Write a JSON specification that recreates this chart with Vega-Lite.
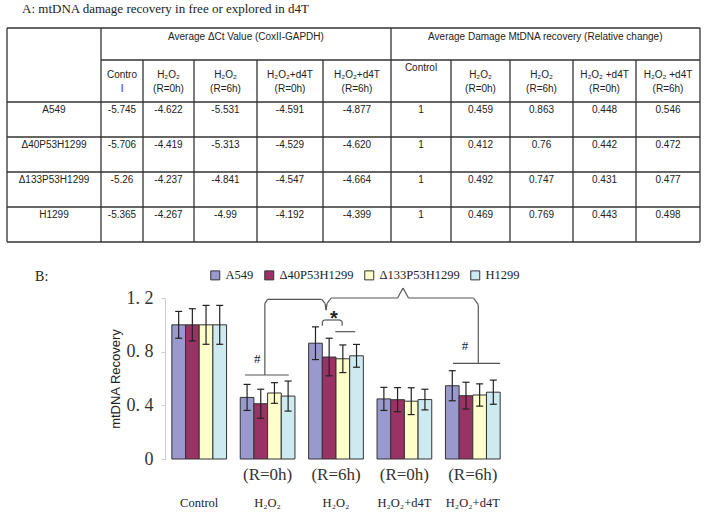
{
  "$schema": "https://vega.github.io/schema/vega-lite/v6.json",
  "width": 342,
  "height": 161,
  "autosize": {"type": "none"},
  "padding": {"left": 165, "top": 298, "right": 200, "bottom": 61},
  "background": "white",
  "config": {"view": {"stroke": null}},
  "datasets": {
    "bars": [
      {"bar": "Control | A549", "group": "Control", "line": "A549", "value": 1, "lo": 0.9, "hi": 1.1},
      {"bar": "Control | Δ40P53H1299", "group": "Control", "line": "Δ40P53H1299", "value": 1, "lo": 0.88, "hi": 1.12},
      {"bar": "Control | Δ133P53H1299", "group": "Control", "line": "Δ133P53H1299", "value": 1, "lo": 0.855, "hi": 1.145},
      {"bar": "Control | H1299", "group": "Control", "line": "H1299", "value": 1, "lo": 0.855, "hi": 1.145},
      {"bar": "H₂O₂ (R=0h) | A549", "group": "H₂O₂ (R=0h)", "line": "A549", "value": 0.459, "lo": 0.362, "hi": 0.556},
      {"bar": "H₂O₂ (R=0h) | Δ40P53H1299", "group": "H₂O₂ (R=0h)", "line": "Δ40P53H1299", "value": 0.412, "lo": 0.304, "hi": 0.52},
      {"bar": "H₂O₂ (R=0h) | Δ133P53H1299", "group": "H₂O₂ (R=0h)", "line": "Δ133P53H1299", "value": 0.492, "lo": 0.415, "hi": 0.569},
      {"bar": "H₂O₂ (R=0h) | H1299", "group": "H₂O₂ (R=0h)", "line": "H1299", "value": 0.469, "lo": 0.357, "hi": 0.581},
      {"bar": "H₂O₂ (R=6h) | A549", "group": "H₂O₂ (R=6h)", "line": "A549", "value": 0.863, "lo": 0.741, "hi": 0.985},
      {"bar": "H₂O₂ (R=6h) | Δ40P53H1299", "group": "H₂O₂ (R=6h)", "line": "Δ40P53H1299", "value": 0.76, "lo": 0.62, "hi": 0.9},
      {"bar": "H₂O₂ (R=6h) | Δ133P53H1299", "group": "H₂O₂ (R=6h)", "line": "Δ133P53H1299", "value": 0.747, "lo": 0.644, "hi": 0.85},
      {"bar": "H₂O₂ (R=6h) | H1299", "group": "H₂O₂ (R=6h)", "line": "H1299", "value": 0.769, "lo": 0.684, "hi": 0.854},
      {"bar": "H₂O₂+d4T (R=0h) | A549", "group": "H₂O₂+d4T (R=0h)", "line": "A549", "value": 0.448, "lo": 0.362, "hi": 0.534},
      {"bar": "H₂O₂+d4T (R=0h) | Δ40P53H1299", "group": "H₂O₂+d4T (R=0h)", "line": "Δ40P53H1299", "value": 0.442, "lo": 0.352, "hi": 0.532},
      {"bar": "H₂O₂+d4T (R=0h) | Δ133P53H1299", "group": "H₂O₂+d4T (R=0h)", "line": "Δ133P53H1299", "value": 0.431, "lo": 0.331, "hi": 0.531},
      {"bar": "H₂O₂+d4T (R=0h) | H1299", "group": "H₂O₂+d4T (R=0h)", "line": "H1299", "value": 0.443, "lo": 0.366, "hi": 0.52},
      {"bar": "H₂O₂+d4T (R=6h) | A549", "group": "H₂O₂+d4T (R=6h)", "line": "A549", "value": 0.546, "lo": 0.434, "hi": 0.658},
      {"bar": "H₂O₂+d4T (R=6h) | Δ40P53H1299", "group": "H₂O₂+d4T (R=6h)", "line": "Δ40P53H1299", "value": 0.472, "lo": 0.372, "hi": 0.572},
      {"bar": "H₂O₂+d4T (R=6h) | Δ133P53H1299", "group": "H₂O₂+d4T (R=6h)", "line": "Δ133P53H1299", "value": 0.477, "lo": 0.394, "hi": 0.56},
      {"bar": "H₂O₂+d4T (R=6h) | H1299", "group": "H₂O₂+d4T (R=6h)", "line": "H1299", "value": 0.498, "lo": 0.408, "hi": 0.588}
    ],
    "xlabels": [
      {"c": 0.5, "l1": "", "l2": "Control"},
      {"c": 1.5, "l1": "(R=0h)", "l2": "H₂O₂"},
      {"c": 2.5, "l1": "(R=6h)", "l2": "H₂O₂"},
      {"c": 3.5, "l1": "(R=0h)", "l2": "H₂O₂+d4T"},
      {"c": 4.5, "l1": "(R=6h)", "l2": "H₂O₂+d4T"}
    ],
    "grid": [
      {"x": 0, "x2": 11, "y": 0, "y2": 0},
      {"x": 1, "x2": 11, "y": 1, "y2": 1},
      {"x": 0, "x2": 11, "y": 2, "y2": 2},
      {"x": 0, "x2": 11, "y": 3, "y2": 3},
      {"x": 0, "x2": 11, "y": 4, "y2": 4},
      {"x": 0, "x2": 11, "y": 5, "y2": 5},
      {"x": 0, "x2": 11, "y": 6, "y2": 6},
      {"x": 0, "x2": 0, "y": 0, "y2": 6},
      {"x": 1, "x2": 1, "y": 0, "y2": 6},
      {"x": 6, "x2": 6, "y": 0, "y2": 6},
      {"x": 11, "x2": 11, "y": 0, "y2": 6},
      {"x": 2, "x2": 2, "y": 1, "y2": 6},
      {"x": 3, "x2": 3, "y": 1, "y2": 6},
      {"x": 4, "x2": 4, "y": 1, "y2": 6},
      {"x": 5, "x2": 5, "y": 1, "y2": 6},
      {"x": 7, "x2": 7, "y": 1, "y2": 6},
      {"x": 8, "x2": 8, "y": 1, "y2": 6},
      {"x": 9, "x2": 9, "y": 1, "y2": 6},
      {"x": 10, "x2": 10, "y": 1, "y2": 6}
    ],
    "cells": [
      {"c": 3.825, "r": 0.28, "t": "Average  ΔCt Value (CoxII-GAPDH)"},
      {"c": 8.56, "r": 0.28, "t": "Average Damage MtDNA recovery (Relative change)"},
      {"c": 1.5, "r": 1.357, "t": ["Contro", "l"]},
      {"c": 2.5, "r": 1.357, "t": ["H₂O₂", "(R=0h)"]},
      {"c": 3.5, "r": 1.357, "t": ["H₂O₂", "(R=6h)"]},
      {"c": 4.5, "r": 1.357, "t": ["H₂O₂+d4T", "(R=0h)"]},
      {"c": 5.5, "r": 1.357, "t": ["H₂O₂+d4T", "(R=6h)"]},
      {"c": 6.5, "r": 1.19, "t": "Control"},
      {"c": 7.5, "r": 1.357, "t": ["H₂O₂", "(R=0h)"]},
      {"c": 8.5, "r": 1.357, "t": ["H₂O₂", "(R=6h)"]},
      {"c": 9.5, "r": 1.357, "t": ["H₂O₂ +d4T", "(R=0h)"]},
      {"c": 10.5, "r": 1.357, "t": ["H₂O₂ +d4T", "(R=6h)"]},
      {"c": 0.5, "r": 2.23, "t": "A549"},
      {"c": 1.5, "r": 2.23, "t": "-5.745"},
      {"c": 2.5, "r": 2.23, "t": "-4.622"},
      {"c": 3.5, "r": 2.23, "t": "-5.531"},
      {"c": 4.5, "r": 2.23, "t": "-4.591"},
      {"c": 5.5, "r": 2.23, "t": "-4.877"},
      {"c": 6.5, "r": 2.23, "t": "1"},
      {"c": 7.5, "r": 2.23, "t": "0.459"},
      {"c": 8.5, "r": 2.23, "t": "0.863"},
      {"c": 9.5, "r": 2.23, "t": "0.448"},
      {"c": 10.5, "r": 2.23, "t": "0.546"},
      {"c": 0.5, "r": 3.23, "t": "Δ40P53H1299"},
      {"c": 1.5, "r": 3.23, "t": "-5.706"},
      {"c": 2.5, "r": 3.23, "t": "-4.419"},
      {"c": 3.5, "r": 3.23, "t": "-5.313"},
      {"c": 4.5, "r": 3.23, "t": "-4.529"},
      {"c": 5.5, "r": 3.23, "t": "-4.620"},
      {"c": 6.5, "r": 3.23, "t": "1"},
      {"c": 7.5, "r": 3.23, "t": "0.412"},
      {"c": 8.5, "r": 3.23, "t": "0.76"},
      {"c": 9.5, "r": 3.23, "t": "0.442"},
      {"c": 10.5, "r": 3.23, "t": "0.472"},
      {"c": 0.5, "r": 4.23, "t": "Δ133P53H1299"},
      {"c": 1.5, "r": 4.23, "t": "-5.26"},
      {"c": 2.5, "r": 4.23, "t": "-4.237"},
      {"c": 3.5, "r": 4.23, "t": "-4.841"},
      {"c": 4.5, "r": 4.23, "t": "-4.547"},
      {"c": 5.5, "r": 4.23, "t": "-4.664"},
      {"c": 6.5, "r": 4.23, "t": "1"},
      {"c": 7.5, "r": 4.23, "t": "0.492"},
      {"c": 8.5, "r": 4.23, "t": "0.747"},
      {"c": 9.5, "r": 4.23, "t": "0.431"},
      {"c": 10.5, "r": 4.23, "t": "0.477"},
      {"c": 0.5, "r": 5.23, "t": "H1299"},
      {"c": 1.5, "r": 5.23, "t": "-5.365"},
      {"c": 2.5, "r": 5.23, "t": "-4.267"},
      {"c": 3.5, "r": 5.23, "t": "-4.99"},
      {"c": 4.5, "r": 5.23, "t": "-4.192"},
      {"c": 5.5, "r": 5.23, "t": "-4.399"},
      {"c": 6.5, "r": 5.23, "t": "1"},
      {"c": 7.5, "r": 5.23, "t": "0.469"},
      {"c": 8.5, "r": 5.23, "t": "0.769"},
      {"c": 9.5, "r": 5.23, "t": "0.443"},
      {"c": 10.5, "r": 5.23, "t": "0.498"}
    ],
    "titles": [
      {"c": 0.16, "r": -1, "t": "A: mtDNA damage recovery in free or explored in d4T"}
    ],
    "segments": [
      {"x": 1.46, "x2": 1.46, "y": 0.626, "y2": 1.16},
      {"x": 1.46, "x2": 1.5, "y": 1.16, "y2": 1.19},
      {"x": 1.5, "x2": 2.29, "y": 1.19, "y2": 1.19},
      {"x": 2.29, "x2": 2.34, "y": 1.19, "y2": 1.16},
      {"x": 2.34, "x2": 2.355, "y": 1.16, "y2": 1.11},
      {"x": 2.355, "x2": 2.37, "y": 1.11, "y2": 1.16},
      {"x": 2.37, "x2": 2.43, "y": 1.16, "y2": 1.2},
      {"x": 2.43, "x2": 3.4, "y": 1.2, "y2": 1.2},
      {"x": 3.4, "x2": 3.48, "y": 1.2, "y2": 1.275},
      {"x": 3.48, "x2": 3.56, "y": 1.275, "y2": 1.2},
      {"x": 3.56, "x2": 4.51, "y": 1.2, "y2": 1.2},
      {"x": 4.51, "x2": 4.58, "y": 1.2, "y2": 1.15},
      {"x": 4.58, "x2": 4.58, "y": 1.15, "y2": 0.713},
      {"x": 2.3, "x2": 2.3, "y": 0.993, "y2": 1.025},
      {"x": 2.3, "x2": 2.33, "y": 1.025, "y2": 1.036},
      {"x": 2.33, "x2": 2.56, "y": 1.036, "y2": 1.036},
      {"x": 2.56, "x2": 2.59, "y": 1.036, "y2": 1.025},
      {"x": 2.59, "x2": 2.59, "y": 1.025, "y2": 0.993},
      {"x": 1.17, "x2": 1.81, "y": 0.626, "y2": 0.626},
      {"x": 2.49, "x2": 2.78, "y": 0.949, "y2": 0.949},
      {"x": 4.21, "x2": 4.9, "y": 0.713, "y2": 0.713}
    ],
    "hashes": [
      {"x": 1.35, "y": 0.719, "t": "#"},
      {"x": 4.386, "y": 0.812, "t": "#"}
    ],
    "stars": [
      {"x": 2.47, "y": 1.0, "t": "*"}
    ],
    "panelLabels": [
      {"x": -1.9, "y": 1.329, "t": "B:"}
    ]
  },
  "layer": [
    {
      "layer": [
        {
          "data": {"name": "grid"},
          "mark": {"type": "rule", "color": "#333333", "strokeWidth": 1.3},
          "encoding": {
            "x": {"field": "x", "type": "quantitative", "axis": null,
                  "scale": {"domain": [0,1,2,3,4,5,6,7,8,9,10,11], "range": [-158,-64,-22,29,92,158,226,286,345,408,471,535], "zero": false, "nice": false}},
            "x2": {"field": "x2"},
            "y": {"field": "y", "type": "quantitative", "axis": null,
                  "scale": {"domain": [-1,0,1,2,3,4,5,6], "range": [-289,-270,-238,-196,-161,-126,-91,-56], "zero": false, "nice": false}},
            "y2": {"field": "y2"}
          }
        },
        {
          "data": {"name": "cells"},
          "mark": {"type": "text", "font": "Liberation Sans", "fontSize": 10, "color": "#222222", "align": "center", "baseline": "middle", "lineHeight": 14},
          "encoding": {
            "x": {"field": "c", "type": "quantitative", "axis": null},
            "y": {"field": "r", "type": "quantitative", "axis": null},
            "text": {"field": "t", "type": "nominal"}
          }
        },
        {
          "data": {"name": "titles"},
          "mark": {"type": "text", "font": "Liberation Serif", "fontSize": 13, "color": "#222222", "align": "left", "baseline": "middle"},
          "encoding": {
            "x": {"field": "c", "type": "quantitative", "axis": null},
            "y": {"field": "r", "type": "quantitative", "axis": null},
            "text": {"field": "t", "type": "nominal"}
          }
        }
      ]
    },
    {
      "data": {"name": "bars"},
      "layer": [
        {
          "mark": {"type": "bar", "stroke": "#333333", "strokeWidth": 1},
          "encoding": {
            "x": {"field": "bar", "type": "nominal", "axis": null,
                  "scale": {"type": "band", "paddingInner": 0, "paddingOuter": 0.5,
                            "domain": ["Control | A549", "Control | Δ40P53H1299", "Control | Δ133P53H1299", "Control | H1299", "gap1",
                                       "H₂O₂ (R=0h) | A549", "H₂O₂ (R=0h) | Δ40P53H1299", "H₂O₂ (R=0h) | Δ133P53H1299", "H₂O₂ (R=0h) | H1299", "gap2",
                                       "H₂O₂ (R=6h) | A549", "H₂O₂ (R=6h) | Δ40P53H1299", "H₂O₂ (R=6h) | Δ133P53H1299", "H₂O₂ (R=6h) | H1299", "gap3",
                                       "H₂O₂+d4T (R=0h) | A549", "H₂O₂+d4T (R=0h) | Δ40P53H1299", "H₂O₂+d4T (R=0h) | Δ133P53H1299", "H₂O₂+d4T (R=0h) | H1299", "gap4",
                                       "H₂O₂+d4T (R=6h) | A549", "H₂O₂+d4T (R=6h) | Δ40P53H1299", "H₂O₂+d4T (R=6h) | Δ133P53H1299", "H₂O₂+d4T (R=6h) | H1299"]}},
            "y": {"field": "value", "type": "quantitative",
                  "scale": {"domain": [0, 1.2], "nice": false},
                  "axis": {"title": "mtDNA Recovery", "titleFont": "Liberation Sans", "titleFontSize": 13, "titleFontWeight": "normal", "titleColor": "#222222", "titlePadding": 4,
                           "values": [0, 0.4, 0.8, 1.2],
                           "labelExpr": "datum.value == 0 ? '0' : floor(datum.value) + '. ' + round((datum.value - floor(datum.value)) * 10)",
                           "labelFont": "Liberation Serif", "labelFontSize": 18, "labelColor": "#333333",
                           "tickSize": 4, "tickColor": "#cccccc", "domainColor": "#cccccc", "labelPadding": 8, "grid": false}},
            "color": {"field": "line", "type": "nominal", "sort": null,
                      "scale": {"domain": ["A549", "Δ40P53H1299", "Δ133P53H1299", "H1299"], "range": ["#9a99cd", "#993366", "#ffffcc", "#cdeaf0"]},
                      "legend": {"orient": "none", "legendX": 44, "legendY": -29, "direction": "horizontal", "title": null,
                                 "symbolType": "square", "symbolSize": 81, "symbolStrokeColor": "#333333", "symbolStrokeWidth": 1,
                                 "labelFont": "Liberation Serif", "labelFontSize": 12.5, "labelColor": "#222222",
                                 "labelOffset": 4, "columnPadding": 8}}
          }
        },
        {
          "mark": {"type": "rule", "color": "#222222", "strokeWidth": 1.2},
          "encoding": {
            "x": {"field": "bar", "type": "nominal", "axis": null},
            "y": {"field": "lo", "type": "quantitative"},
            "y2": {"field": "hi"}
          }
        },
        {
          "mark": {"type": "tick", "size": 7, "thickness": 1.2, "color": "#222222", "opacity": 1},
          "encoding": {
            "x": {"field": "bar", "type": "nominal", "axis": null},
            "y": {"field": "lo", "type": "quantitative"}
          }
        },
        {
          "mark": {"type": "tick", "size": 7, "thickness": 1.2, "color": "#222222", "opacity": 1},
          "encoding": {
            "x": {"field": "bar", "type": "nominal", "axis": null},
            "y": {"field": "hi", "type": "quantitative"}
          }
        }
      ]
    },
    {
      "layer": [
        {
          "data": {"name": "segments"},
          "mark": {"type": "rule", "color": "#555555", "strokeWidth": 1.2},
          "encoding": {
            "x": {"field": "x", "type": "quantitative",
                  "scale": {"domain": [0, 5], "zero": false, "nice": false},
                  "axis": {"title": null, "values": [0, 1, 2, 3, 4, 5], "labels": false, "grid": false,
                           "tickSize": 62, "tickColor": "#e3e3e3", "domainColor": "#cccccc"}},
            "x2": {"field": "x2"},
            "y": {"field": "y", "type": "quantitative", "axis": null, "scale": {"domain": [0, 1.2], "zero": false, "nice": false}},
            "y2": {"field": "y2"}
          }
        },
        {
          "data": {"name": "xlabels"},
          "mark": {"type": "text", "font": "Liberation Serif", "fontSize": 17, "color": "#333333", "align": "center", "baseline": "middle"},
          "encoding": {
            "x": {"field": "c", "type": "quantitative", "axis": null},
            "y": {"datum": -0.119, "type": "quantitative", "axis": null},
            "text": {"field": "l1"}
          }
        },
        {
          "data": {"name": "xlabels"},
          "mark": {"type": "text", "font": "Liberation Serif", "fontSize": 12.5, "color": "#222222", "align": "center", "baseline": "middle"},
          "encoding": {
            "x": {"field": "c", "type": "quantitative", "axis": null},
            "y": {"datum": -0.328, "type": "quantitative", "axis": null},
            "text": {"field": "l2"}
          }
        },
        {
          "data": {"name": "hashes"},
          "mark": {"type": "text", "font": "Liberation Serif", "fontSize": 13, "color": "#222222", "align": "center", "baseline": "alphabetic"},
          "encoding": {
            "x": {"field": "x", "type": "quantitative", "axis": null},
            "y": {"field": "y", "type": "quantitative", "axis": null},
            "text": {"field": "t"}
          }
        },
        {
          "data": {"name": "stars"},
          "mark": {"type": "text", "font": "Liberation Sans", "fontSize": 20, "fontWeight": "bold", "color": "#222222", "align": "center", "baseline": "alphabetic"},
          "encoding": {
            "x": {"field": "x", "type": "quantitative", "axis": null},
            "y": {"field": "y", "type": "quantitative", "axis": null},
            "text": {"field": "t"}
          }
        },
        {
          "data": {"name": "panelLabels"},
          "mark": {"type": "text", "font": "Liberation Serif", "fontSize": 14, "color": "#222222", "align": "left", "baseline": "alphabetic"},
          "encoding": {
            "x": {"field": "x", "type": "quantitative", "axis": null},
            "y": {"field": "y", "type": "quantitative", "axis": null},
            "text": {"field": "t"}
          }
        }
      ]
    }
  ],
  "resolve": {"scale": {"x": "independent", "y": "independent"}}
}
